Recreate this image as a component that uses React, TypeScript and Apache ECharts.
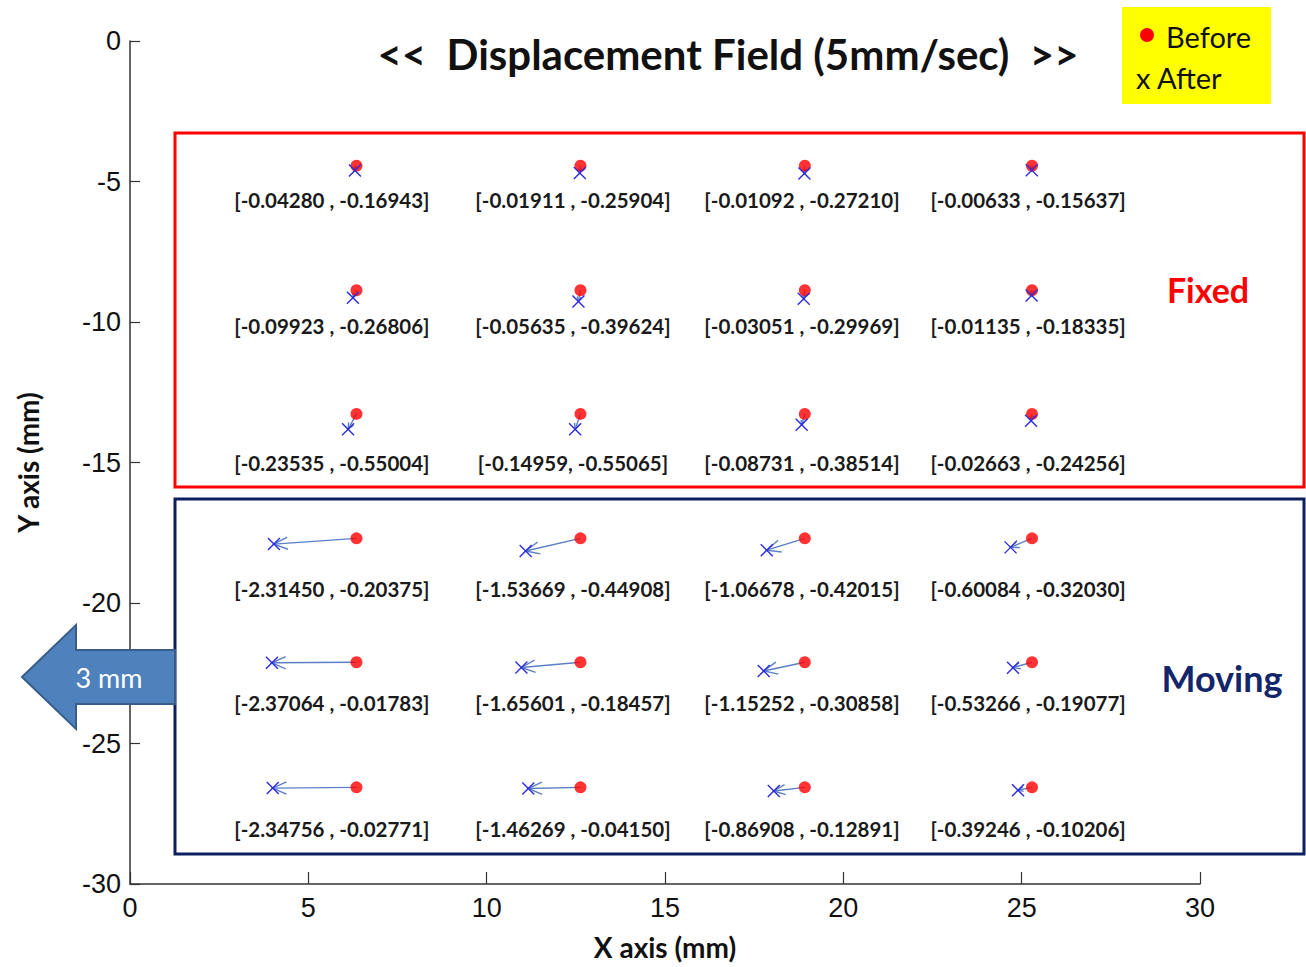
import React, { useEffect, useRef } from "react";
import * as echarts from "echarts";

// Grid of measurement points (mm)
const colX = [6.35, 12.63, 18.92, 25.29];
const rowY = [-4.44, -8.87, -13.27, -17.7, -22.11, -26.56];
// Label anchors (mm)
const labelColX = [5.66, 12.42, 18.84, 25.18];
const labelRowY = [-5.67, -10.15, -15.03, -19.51, -23.57, -28.05];

// Displacement per row (x and y components, mm)
const dispX = [
  [-0.0428, -0.01911, -0.01092, -0.00633],
  [-0.09923, -0.05635, -0.03051, -0.01135],
  [-0.23535, -0.14959, -0.08731, -0.02663],
  [-2.3145, -1.53669, -1.06678, -0.60084],
  [-2.37064, -1.65601, -1.15252, -0.53266],
  [-2.34756, -1.46269, -0.86908, -0.39246],
];
const dispY = [
  [-0.16943, -0.25904, -0.2721, -0.15637],
  [-0.26806, -0.39624, -0.29969, -0.18335],
  [-0.55004, -0.55065, -0.38514, -0.24256],
  [-0.20375, -0.44908, -0.42015, -0.3203],
  [-0.01783, -0.18457, -0.30858, -0.19077],
  [-0.02771, -0.0415, -0.12891, -0.10206],
];
const labels = [
  ["[-0.04280 , -0.16943]", "[-0.01911 , -0.25904]", "[-0.01092 , -0.27210]", "[-0.00633 , -0.15637]"],
  ["[-0.09923 , -0.26806]", "[-0.05635 , -0.39624]", "[-0.03051 , -0.29969]", "[-0.01135 , -0.18335]"],
  ["[-0.23535 , -0.55004]", "[-0.14959, -0.55065]", "[-0.08731 , -0.38514]", "[-0.02663 , -0.24256]"],
  ["[-2.31450 , -0.20375]", "[-1.53669 , -0.44908]", "[-1.06678 , -0.42015]", "[-0.60084 , -0.32030]"],
  ["[-2.37064 , -0.01783]", "[-1.65601 , -0.18457]", "[-1.15252 , -0.30858]", "[-0.53266 , -0.19077]"],
  ["[-2.34756 , -0.02771]", "[-1.46269 , -0.04150]", "[-0.86908 , -0.12891]", "[-0.39246 , -0.10206]"],
];

const xTicks = { min: 0, max: 30, interval: 5 };
const yTicks = { min: -30, max: 0, interval: 5 };

export default function App() {
  const ref = useRef<HTMLDivElement>(null);
  useEffect(() => {
    document.body.style.margin = "0";
    const chart = echarts.init(ref.current!, null, { renderer: "svg" });

    const before: number[][] = [];
    const vec: number[][] = [];
    const lab: any[] = [];
    rowY.forEach((y, r) => {
      colX.forEach((x, c) => {
        before.push([x, y]);
        vec.push([x, y, x + dispX[r][c], y + dispY[r][c]]);
        lab.push([labelColX[c], labelRowY[r], labels[r][c]]);
      });
    });

    const arrowColor = "#5b7fc4";
    const xColor = "#2b2be0";

    const option: any = {
      animation: false,
      backgroundColor: "#ffffff",
      grid: { left: 130, top: 41, right: 106, bottom: 83 },
      xAxis: {
        type: "value",
        min: xTicks.min,
        max: xTicks.max,
        interval: xTicks.interval,
        name: "X axis (mm)",
        nameLocation: "middle",
        nameGap: 49,
        nameTextStyle: { fontFamily: "Lato", fontWeight: "bold", fontSize: 28, color: "#111" },
        axisLine: { show: true, onZero: false, lineStyle: { color: "#333", width: 1.5 } },
        axisTick: { show: true, inside: true, length: 12, lineStyle: { color: "#333", width: 1.2 } },
        splitLine: { show: false },
        axisLabel: { fontFamily: "Liberation Sans", fontSize: 27, color: "#111", margin: 10 },
      },
      yAxis: {
        type: "value",
        min: yTicks.min,
        max: yTicks.max,
        interval: yTicks.interval,
        name: "Y axis (mm)",
        nameLocation: "middle",
        nameGap: 88,
        nameRotate: 90,
        nameTextStyle: { fontFamily: "Lato", fontWeight: "bold", fontSize: 28, color: "#111" },
        axisLine: { show: true, onZero: false, lineStyle: { color: "#333", width: 1.5 } },
        axisTick: { show: true, inside: true, length: 10, lineStyle: { color: "#333", width: 1.2 } },
        splitLine: { show: false },
        axisLabel: { fontFamily: "Liberation Sans", fontSize: 27, color: "#111", margin: 9 },
      },
      series: [
        {
          name: "arrows",
          type: "custom",
          z: 2,
          clip: false,
          data: vec,
          encode: { x: [0, 2], y: [1, 3] },
          renderItem: (params: any, api: any) => {
            const b = api.coord([api.value(0), api.value(1)]);
            const a = api.coord([api.value(2), api.value(3)]);
            const dx = b[0] - a[0];
            const dy = b[1] - a[1];
            const len = Math.sqrt(dx * dx + dy * dy) || 1;
            const ux = dx / len;
            const uy = dy / len;
            const h = Math.min(15, Math.max(5, 0.4 * len));
            const th = (24 * Math.PI) / 180;
            const rot = (s: number) => [
              a[0] + h * (ux * Math.cos(s * th) - uy * Math.sin(s * th)),
              a[1] + h * (ux * Math.sin(s * th) + uy * Math.cos(s * th)),
            ];
            return {
              type: "group",
              children: [
                {
                  type: "line",
                  shape: { x1: b[0], y1: b[1], x2: a[0], y2: a[1] },
                  style: { stroke: arrowColor, lineWidth: 1.4 },
                },
                {
                  type: "polyline",
                  shape: { points: [rot(1), a, rot(-1)] },
                  style: { stroke: arrowColor, lineWidth: 1.4, fill: "none" },
                },
              ],
            };
          },
        },
        {
          name: "Before",
          type: "scatter",
          z: 3,
          symbol: "circle",
          symbolSize: 12,
          itemStyle: { color: "#ff0000" },
          data: before,
        },
        {
          name: "After",
          type: "custom",
          z: 4,
          clip: false,
          data: vec,
          encode: { x: [0, 2], y: [1, 3] },
          renderItem: (params: any, api: any) => {
            const a = api.coord([api.value(2), api.value(3)]);
            const s = 6;
            return {
              type: "group",
              children: [
                {
                  type: "line",
                  shape: { x1: a[0] - s, y1: a[1] - s, x2: a[0] + s, y2: a[1] + s },
                  style: { stroke: xColor, lineWidth: 1.4 },
                },
                {
                  type: "line",
                  shape: { x1: a[0] - s, y1: a[1] + s, x2: a[0] + s, y2: a[1] - s },
                  style: { stroke: xColor, lineWidth: 1.4 },
                },
              ],
            };
          },
        },
        {
          name: "labels",
          type: "custom",
          z: 5,
          clip: false,
          data: lab,
          encode: { x: 0, y: 1 },
          renderItem: (params: any, api: any) => {
            const p = api.coord([api.value(0), api.value(1)]);
            return {
              type: "text",
              x: p[0],
              y: p[1],
              style: {
                text: lab[params.dataIndex][2],
                align: "center",
                verticalAlign: "middle",
                fontFamily: "Lato",
                fontWeight: "bold",
                fontSize: 20.5,
                fill: "#1a1a1a",
              },
            };
          },
        },
      ],
      graphic: [
        {
          type: "text",
          x: 728,
          y: 54,
          style: {
            text: "<<  Displacement Field (5mm/sec)  >>",
            align: "center",
            verticalAlign: "middle",
            fontFamily: "Lato",
            fontWeight: "bold",
            fontSize: 42,
            fill: "#111",
          },
        },
        {
          type: "rect",
          shape: { x: 1122, y: 7, width: 149, height: 97 },
          style: { fill: "#ffff00" },
        },
        {
          type: "circle",
          shape: { cx: 1147, cy: 35, r: 7 },
          style: { fill: "#ff0000" },
        },
        {
          type: "text",
          x: 1166,
          y: 36,
          style: { text: "Before", verticalAlign: "middle", fontFamily: "Lato", fontSize: 29, fill: "#111" },
        },
        {
          type: "text",
          x: 1136,
          y: 77,
          style: { text: "x After", verticalAlign: "middle", fontFamily: "Lato", fontSize: 29, fill: "#111" },
        },
        {
          type: "rect",
          shape: { x: 175, y: 133, width: 1129, height: 354 },
          style: { fill: "none", stroke: "#ff0000", lineWidth: 3 },
        },
        {
          type: "rect",
          shape: { x: 175, y: 499, width: 1129, height: 355 },
          style: { fill: "none", stroke: "#0d1f5e", lineWidth: 3 },
        },
        {
          type: "text",
          x: 1208,
          y: 289,
          style: {
            text: "Fixed",
            align: "center",
            verticalAlign: "middle",
            fontFamily: "Lato",
            fontWeight: "bold",
            fontSize: 34,
            fill: "#ff0000",
          },
        },
        {
          type: "text",
          x: 1222,
          y: 678,
          style: {
            text: "Moving",
            align: "center",
            verticalAlign: "middle",
            fontFamily: "Lato",
            fontWeight: "bold",
            fontSize: 36,
            fill: "#13266a",
          },
        },
        {
          type: "polygon",
          z: 100,
          shape: {
            points: [
              [22, 677],
              [76, 625],
              [76, 650],
              [175, 650],
              [175, 704],
              [76, 704],
              [76, 729],
            ],
          },
          style: { fill: "#4f81bd", stroke: "#385d8a", lineWidth: 2 },
        },
        {
          type: "text",
          z: 101,
          x: 109,
          y: 677,
          style: {
            text: "3 mm",
            align: "center",
            verticalAlign: "middle",
            fontFamily: "Lato",
            fontSize: 27,
            fill: "#ffffff",
          },
        },
      ],
    };
    chart.setOption(option);
    return () => chart.dispose();
  }, []);
  return <div ref={ref} style={{ width: 1306, height: 967 }} />;
}
